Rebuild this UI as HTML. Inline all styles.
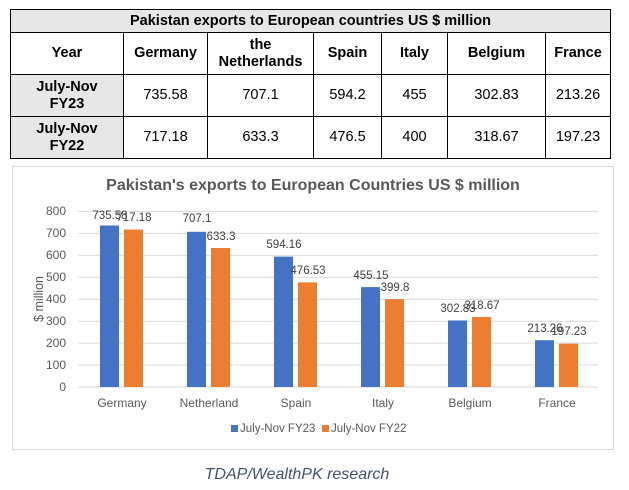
<!DOCTYPE html>
<html><head><meta charset="utf-8"><style>
body{margin:0;background:#fff;width:629px;height:490px;position:relative;overflow:hidden;font-family:"Liberation Sans",Calibri,sans-serif}
table{position:absolute;left:10px;top:9px;border-collapse:collapse;width:601px;font-size:14.5px;color:#000}
td{border:1px solid #000;text-align:center;padding:0;line-height:17px}
.t{background:#e7e7e7;font-weight:bold;height:22px;font-size:14.5px}
.h td{font-weight:bold;height:41px}
.r td{height:41px}
.g{background:#e7e7e7;font-weight:bold}
</style></head><body>
<table>
<tr><td colspan="7" class="t">Pakistan exports to European countries US $ million</td></tr>
<tr class="h"><td style="width:112px">Year</td><td style="width:83px">Germany</td><td style="width:105px">the<br>Netherlands</td><td style="width:67px">Spain</td><td style="width:65px">Italy</td><td style="width:97px">Belgium</td><td>France</td></tr>
<tr class="r"><td class="g">July-Nov<br>FY23</td><td>735.58</td><td>707.1</td><td>594.2</td><td>455</td><td>302.83</td><td>213.26</td></tr>
<tr class="r"><td class="g">July-Nov<br>FY22</td><td>717.18</td><td>633.3</td><td>476.5</td><td>400</td><td>318.67</td><td>197.23</td></tr>
</table>
<svg width="629" height="490" style="position:absolute;left:0;top:0" font-family="Liberation Sans, sans-serif">
<rect x="12.5" y="166.5" width="601" height="283" fill="none" stroke="#d9d9d9"/>
<text x="313" y="190" text-anchor="middle" font-size="16" font-weight="bold" fill="#595959">Pakistan's exports to European Countries US $ million</text>
<g stroke="#d9d9d9" stroke-width="1">
<line x1="78" x2="598" y1="211.4" y2="211.4"/><line x1="78" x2="598" y1="233.4" y2="233.4"/><line x1="78" x2="598" y1="255.3" y2="255.3"/><line x1="78" x2="598" y1="277.3" y2="277.3"/><line x1="78" x2="598" y1="299.2" y2="299.2"/><line x1="78" x2="598" y1="321.2" y2="321.2"/><line x1="78" x2="598" y1="343.1" y2="343.1"/><line x1="78" x2="598" y1="365.1" y2="365.1"/><line x1="78" x2="598" y1="387" y2="387"/>
</g>
<g font-size="12" fill="#595959" text-anchor="end">
<text x="66" y="215">800</text><text x="66" y="237">700</text><text x="66" y="259">600</text><text x="66" y="281">500</text><text x="66" y="303">400</text><text x="66" y="325">300</text><text x="66" y="347">200</text><text x="66" y="369">100</text><text x="66" y="391">0</text>
</g>
<text transform="translate(43,299) rotate(-90)" text-anchor="middle" font-size="12.5" fill="#595959">$ million</text>
<g fill="#4472c4">
<rect x="100" y="225.5" width="19" height="161.5"/>
<rect x="187" y="231.8" width="19" height="155.2"/>
<rect x="274" y="256.6" width="19" height="130.4"/>
<rect x="361" y="287.1" width="19" height="99.9"/>
<rect x="448" y="320.5" width="19" height="66.5"/>
<rect x="535" y="340.2" width="19" height="46.8"/>
</g>
<g fill="#ed7d31">
<rect x="124" y="229.6" width="19" height="157.4"/>
<rect x="211" y="248" width="19" height="139"/>
<rect x="298" y="282.4" width="19" height="104.6"/>
<rect x="385" y="299.2" width="19" height="87.8"/>
<rect x="472" y="317" width="19" height="70"/>
<rect x="559" y="343.7" width="19" height="43.3"/>
</g>
<g font-size="11.5" fill="#404040" text-anchor="middle">
<text x="110" y="219">735.58</text><text x="134" y="221">717.18</text>
<text x="197" y="222">707.1</text><text x="221" y="240">633.3</text>
<text x="284" y="248">594.16</text><text x="308" y="274">476.53</text>
<text x="371" y="279">455.15</text><text x="395" y="291">399.8</text>
<text x="458" y="312">302.83</text><text x="482" y="309">318.67</text>
<text x="545" y="332">213.26</text><text x="569" y="335">197.23</text>
</g>
<g font-size="12" fill="#595959" text-anchor="middle">
<text x="122" y="407">Germany</text><text x="209" y="407">Netherland</text><text x="296" y="407">Spain</text><text x="383" y="407">Italy</text><text x="470" y="407">Belgium</text><text x="557" y="407">France</text>
</g>
<rect x="231" y="425" width="7" height="7" fill="#4472c4"/>
<text x="240" y="432" font-size="11.5" fill="#595959">July-Nov FY23</text>
<rect x="322" y="425" width="7" height="7" fill="#ed7d31"/>
<text x="331" y="432" font-size="11.5" fill="#595959">July-Nov FY22</text>
<text x="297" y="479" text-anchor="middle" font-size="16" font-style="italic" fill="#44546a">TDAP/WealthPK research</text>
</svg>
</body></html>
